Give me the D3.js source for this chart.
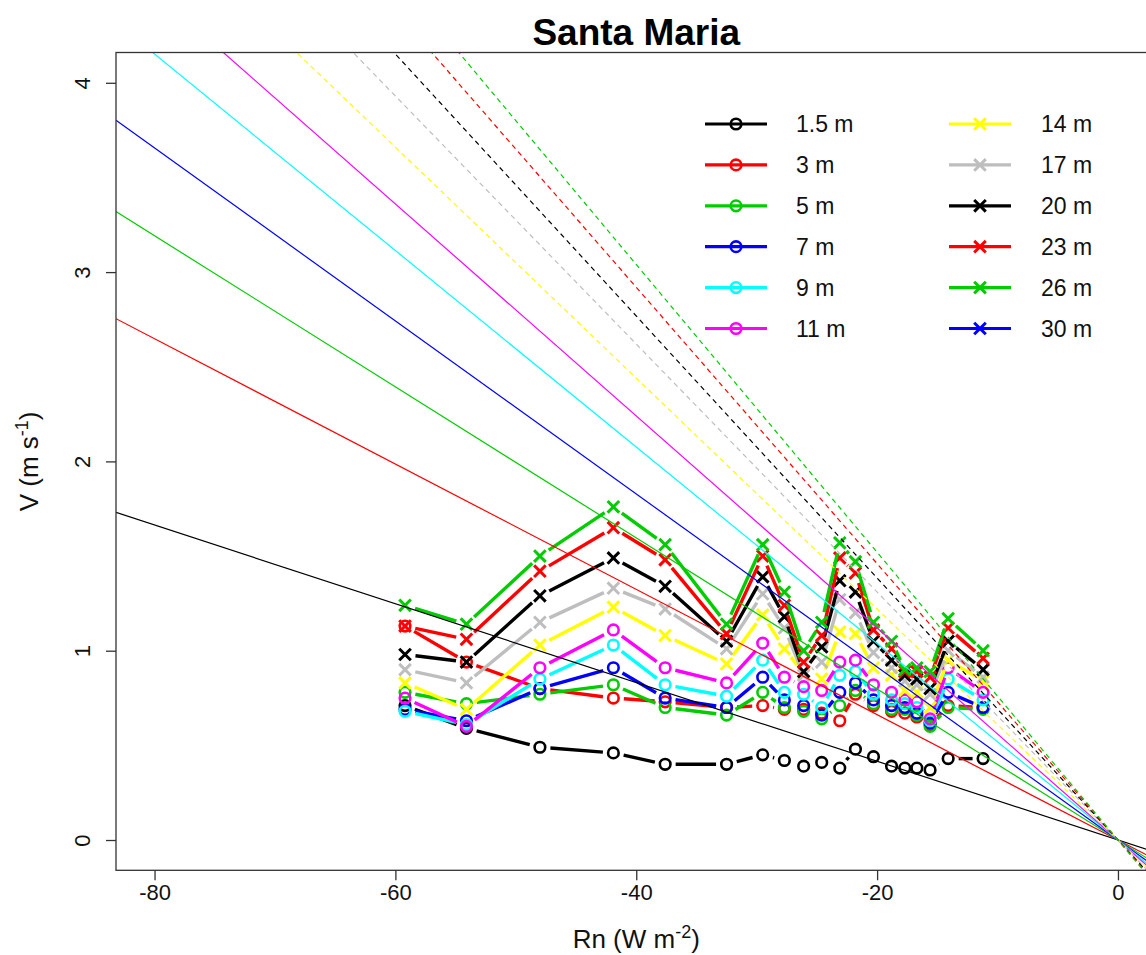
<!DOCTYPE html>
<html>
<head>
<meta charset="utf-8">
<script src="https://cdn.jsdelivr.net/npm/d3@7"></script>
<style>
  html, body { margin: 0; padding: 0; background: #fff; overflow: hidden; }
  svg { display: block; font-family: "Liberation Sans", Arial, sans-serif; }
</style>
</head>
<body>
<div id="chart"></div>
<script>
// Net radiation bins (W m-2)
const rn = [-59.2, -54.1, -48.0, -41.9, -37.6, -32.5, -29.5, -27.7, -26.1, -24.6,
            -23.1, -21.8, -20.3, -18.8, -17.7, -16.7, -15.6, -14.1, -11.2];

// Wind speed per height (m s-1)
const v1_5 = [0.71, 0.59, 0.49, 0.46, 0.40, 0.40, 0.45, 0.42, 0.39, 0.41, 0.38, 0.48, 0.44, 0.39, 0.38, 0.38, 0.37, 0.43, 0.43];
const v3   = [1.13, 0.94, 0.80, 0.75, 0.73, 0.70, 0.71, 0.69, 0.69, 0.67, 0.63, 0.77, 0.71, 0.68, 0.67, 0.65, 0.61, 0.71, 0.70];
const v5   = [0.78, 0.72, 0.77, 0.82, 0.70, 0.66, 0.78, 0.70, 0.68, 0.64, 0.71, 0.79, 0.72, 0.69, 0.69, 0.66, 0.60, 0.70, 0.69];
const v7   = [0.69, 0.63, 0.80, 0.91, 0.75, 0.70, 0.86, 0.74, 0.71, 0.66, 0.78, 0.83, 0.74, 0.71, 0.70, 0.67, 0.62, 0.78, 0.70];
const v9   = [0.68, 0.61, 0.85, 1.03, 0.82, 0.76, 0.95, 0.78, 0.77, 0.70, 0.87, 0.89, 0.77, 0.74, 0.72, 0.70, 0.63, 0.85, 0.74];
const v11  = [0.75, 0.60, 0.91, 1.11, 0.91, 0.83, 1.04, 0.86, 0.81, 0.79, 0.94, 0.95, 0.82, 0.78, 0.74, 0.73, 0.64, 0.91, 0.78];
const v14  = [0.83, 0.69, 1.03, 1.23, 1.08, 0.93, 1.19, 1.01, 0.88, 0.85, 1.10, 1.09, 0.91, 0.87, 0.79, 0.78, 0.70, 0.95, 0.84];
const v17  = [0.90, 0.83, 1.15, 1.33, 1.22, 1.01, 1.30, 1.12, 0.87, 0.94, 1.27, 1.20, 0.99, 0.91, 0.84, 0.82, 0.77, 1.00, 0.86];
const v20  = [0.98, 0.94, 1.29, 1.49, 1.34, 1.05, 1.39, 1.18, 0.89, 1.02, 1.37, 1.31, 1.05, 0.95, 0.87, 0.85, 0.80, 1.05, 0.90];
const v23  = [1.13, 1.06, 1.42, 1.65, 1.48, 1.09, 1.50, 1.24, 0.94, 1.08, 1.49, 1.41, 1.11, 1.01, 0.89, 0.89, 0.86, 1.12, 0.96];
const v26  = [1.24, 1.14, 1.50, 1.76, 1.56, 1.14, 1.56, 1.31, 1.00, 1.15, 1.57, 1.47, 1.15, 1.05, 0.90, 0.91, 0.89, 1.17, 1.00];
const v30  = []; // no data for 30 m

// Fitted slopes of V vs Rn, lines through the origin
const slopes = [-0.0208, -0.0331, -0.0399, -0.0457, -0.0519, -0.0560,
                -0.0610, -0.0655, -0.0692, -0.0730, -0.0760, null];

const labels = ["1.5 m", "3 m", "5 m", "7 m", "9 m", "11 m",
                "14 m", "17 m", "20 m", "23 m", "26 m", "30 m"];
const values = [v1_5, v3, v5, v7, v9, v11, v14, v17, v20, v23, v26, v30];

const xTicks = [-80, -60, -40, -20, 0];
const yTicks = [0, 1, 2, 3, 4];

// styles
const colors = ["#000000", "#ff0000", "#00cd00", "#0000ff", "#00ffff", "#ff00ff",
                "#ffff00", "#bebebe", "#000000", "#ff0000", "#00cd00", "#0000ff"];
const shapes = ["o", "o", "o", "o", "o", "o", "x", "x", "x", "x", "x", "x"];

const W = 1146, H = 955;
const plot = { left: 116, right: 1156.5, top: 52.5, bottom: 870.3 };

const svg = d3.select("#chart").append("svg")
  .attr("width", W)
  .attr("height", H);

const x = d3.scaleLinear().domain([-83.2, 3.2]).range([plot.left, plot.right]);
const y = d3.scaleLinear().domain([-0.16, 4.16]).range([plot.bottom, plot.top]);

svg.append("clipPath").attr("id", "clip")
  .append("rect")
  .attr("x", plot.left).attr("y", plot.top)
  .attr("width", plot.right - plot.left)
  .attr("height", plot.bottom - plot.top);

// draw a marker (circle or cross)
function marker(g, cx, cy, shape, color) {
  if (shape === "o") {
    g.append("circle")
      .attr("cx", cx).attr("cy", cy).attr("r", 5.3)
      .attr("fill", "none")
      .attr("stroke", color)
      .attr("stroke-width", 2.6);
  } else {
    const s = 5.8;
    g.append("path")
      .attr("d", `M${cx - s},${cy - s}L${cx + s},${cy + s}M${cx - s},${cy + s}L${cx + s},${cy - s}`)
      .attr("stroke", color)
      .attr("stroke-width", 3)
      .attr("fill", "none");
  }
}

const dataG = svg.append("g").attr("clip-path", "url(#clip)");

// type = "b": segments with a gap around each point
const gap = 10.5;
values.forEach((vals, k) => {
  const pts = vals.map((v, i) => [x(rn[i]), y(v)]);
  for (let i = 0; i < pts.length - 1; i++) {
    const [x0, y0] = pts[i], [x1, y1] = pts[i + 1];
    const d = Math.hypot(x1 - x0, y1 - y0);
    if (d <= 2 * gap) continue;
    const ux = (x1 - x0) / d, uy = (y1 - y0) / d;
    dataG.append("line")
      .attr("x1", x0 + ux * gap).attr("y1", y0 + uy * gap)
      .attr("x2", x1 - ux * gap).attr("y2", y1 - uy * gap)
      .attr("stroke", colors[k])
      .attr("stroke-width", 3.4)
      .attr("stroke-linecap", "butt");
  }
  pts.forEach(p => marker(dataG, p[0], p[1], shapes[k], colors[k]));
});

// regression lines through the origin
const lineG = svg.append("g").attr("clip-path", "url(#clip)");
slopes.forEach((b, k) => {
  if (b === null) return;
  const xs = x.domain();
  lineG.append("line")
    .attr("x1", x(xs[0])).attr("y1", y(b * xs[0]))
    .attr("x2", x(xs[1])).attr("y2", y(b * xs[1]))
    .attr("stroke", colors[k])
    .attr("stroke-width", 1.2)
    .attr("stroke-dasharray", k >= 6 ? "5,4" : null);
});

// box
svg.append("rect")
  .attr("x", plot.left).attr("y", plot.top)
  .attr("width", plot.right - plot.left)
  .attr("height", plot.bottom - plot.top)
  .attr("fill", "none")
  .attr("stroke", "#333")
  .attr("stroke-width", 1.3);

// axes
const xAxis = svg.append("g")
  .attr("transform", `translate(0,${plot.bottom})`)
  .call(d3.axisBottom(x).tickValues(xTicks).tickSize(10).tickPadding(4).tickFormat(d => String(d)));
xAxis.select(".domain").remove();
xAxis.selectAll("line").attr("stroke", "#333").attr("stroke-width", 1.3);
xAxis.selectAll("text").attr("font-size", 22).attr("fill", "#111")
  .attr("font-family", "Liberation Sans, Arial, sans-serif");

const yAxis = svg.append("g")
  .attr("transform", `translate(${plot.left},0)`)
  .call(d3.axisLeft(y).tickValues(yTicks).tickSize(10).tickFormat(d => String(d)));
yAxis.select(".domain").remove();
yAxis.selectAll("line").attr("stroke", "#333").attr("stroke-width", 1.3);
yAxis.selectAll("text")
  .attr("font-size", 22).attr("fill", "#111")
  .attr("font-family", "Liberation Sans, Arial, sans-serif")
  .attr("x", null).attr("dy", null)
  .attr("text-anchor", "middle")
  .attr("transform", "translate(-26,0) rotate(-90)")
  .attr("y", 0);

// titles
svg.append("text")
  .attr("x", (plot.left + plot.right) / 2).attr("y", 45)
  .attr("text-anchor", "middle")
  .attr("font-size", 37).attr("font-weight", "bold")
  .text("Santa Maria");

const xl = svg.append("text")
  .attr("x", (plot.left + plot.right) / 2).attr("y", 948)
  .attr("text-anchor", "middle")
  .attr("font-size", 26).attr("fill", "#111");
xl.append("tspan").text("Rn (W m");
xl.append("tspan").attr("dy", -10).attr("font-size", 18).text("-2");
xl.append("tspan").attr("dy", 10).text(")");

const yl = svg.append("text")
  .attr("transform", `translate(38,${(plot.top + plot.bottom) / 2}) rotate(-90)`)
  .attr("text-anchor", "middle")
  .attr("font-size", 26).attr("fill", "#111");
yl.append("tspan").text("V (m s");
yl.append("tspan").attr("dy", -10).attr("font-size", 18).text("-1");
yl.append("tspan").attr("dy", 10).text(")");

// legend
const legendCols = [{ x0: 705, x1: 767, tx: 796 }, { x0: 949, x1: 1011, tx: 1041 }];
const rowY = d3.range(6).map(i => 124 + i * 40.9);
const lg = svg.append("g");
labels.forEach((lab, k) => {
  const c = legendCols[Math.floor(k / 6)];
  const yy = rowY[k % 6];
  lg.append("line")
    .attr("x1", c.x0).attr("x2", c.x1).attr("y1", yy).attr("y2", yy)
    .attr("stroke", colors[k]).attr("stroke-width", 3.2);
  marker(lg, (c.x0 + c.x1) / 2, yy, shapes[k], colors[k]);
  lg.append("text")
    .attr("x", c.tx).attr("y", yy + 8)
    .attr("font-size", 23).attr("fill", "#111")
    .text(lab);
});
</script>
</body>
</html>
